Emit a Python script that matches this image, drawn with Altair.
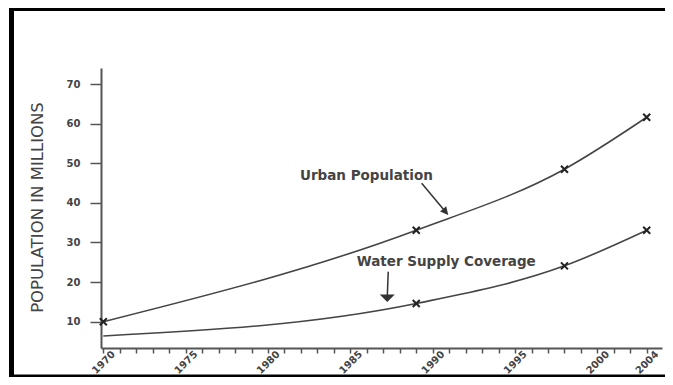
import altair as alt
import pandas as pd

# ---- data ----
series_names = ["Urban Population", "Water Supply Coverage"]
urban_years = [1970, 1989, 1998, 2004]
urban_values = [10.0, 33.1, 48.5, 61.6]
urban_marked = [True, True, True, True]
water_years = [1970, 1989, 1998, 2004]
water_values = [6.4, 14.6, 24.1, 33.1]
water_marked = [False, True, True, True]

y_ticks = [10, 20, 30, 40, 50, 60, 70]
x_ticks = list(range(1970, 2001)) + [2001.333, 2002.667, 2004]
x_labels = [1970, 1975, 1980, 1985, 1990, 1995, 2000, 2004]

annot_text = ["Urban Population", "Water Supply Coverage"]
annot_x = [1981.94, 1985.39]
annot_y = [45.77, 24.14]
arrow_x = [1989.33, 1987.30]
arrow_y = [44.94, 22.6]
arrow_x2 = [1990.79, 1987.24]
arrow_y2 = [37.72, 15.92]

# ---- tables ----
lines_df = pd.DataFrame({
    "series": [series_names[0]] * len(urban_years) + [series_names[1]] * len(water_years),
    "year": urban_years + water_years,
    "value": urban_values + water_values,
    "marked": urban_marked + water_marked,
})
marks_df = lines_df[lines_df["marked"]]
text_df = pd.DataFrame({"label": annot_text, "tx": annot_x, "ty": annot_y})
arrow_df = pd.DataFrame({"ax": arrow_x, "ay": arrow_y, "ax2": arrow_x2, "ay2": arrow_y2})
one = pd.DataFrame({"k": [0]})

label_list = ",".join(str(v) for v in x_labels)
xscale = alt.Scale(domain=[1969.86, 2000, 2004, 2005.24], range=[0, 496.4, 545.7, 561],
                   nice=False, zero=False)
yscale = alt.Scale(domain=[3.37, 74.04], nice=False, zero=False)

xaxis = alt.Axis(
    values=x_ticks, title=None, grid=False,
    labelExpr="indexof([" + label_list + "], datum.value) >= 0 ? format(datum.value, 'd') : ''",
    labelAngle=-45, labelAlign="center", labelBaseline="middle", labelPadding=9,
    labelFont="DejaVu Sans", labelFontWeight="bold", labelFontSize=10, labelColor="#444",
    labelOverlap=False, labelFlush=False,
    tickSize=5, tickWidth=1.5, tickColor="#555", domainColor="#555", domainWidth=2,
)
yaxis = alt.Axis(
    values=y_ticks, grid=False, title="POPULATION IN MILLIONS",
    titleFont="DejaVu Sans", titleFontSize=16.5, titleFontWeight="normal", titleColor="#444",
    titleAngle=270, titleX=-64, titleY=139, titleAlign="center", titleBaseline="middle",
    labelFont="DejaVu Sans", labelFontWeight="bold", labelFontSize=10, labelColor="#444",
    labelPadding=10, tickSize=11, tickWidth=1.5, tickColor="#555",
    domainColor="#555", domainWidth=2,
)


def X(f):
    return alt.X(f, type="quantitative", scale=xscale, axis=xaxis)


def Y(f):
    return alt.Y(f, type="quantitative", scale=yscale, axis=yaxis)


lines = alt.Chart(lines_df).mark_line(interpolate="monotone", color="#454545", strokeWidth=1.6).encode(
    x=X("year"), y=Y("value"), detail="series:N"
)
points = alt.Chart(marks_df).mark_point(
    shape="M-1,-1L1,1M-1,1L1,-1", filled=False, size=49, stroke="#222", strokeWidth=2, opacity=1
).encode(x=X("year"), y=Y("value"))

texts = alt.Chart(text_df).mark_text(
    align="left", baseline="alphabetic", font="DejaVu Sans", fontWeight="bold",
    fontSize=13.5, color="#444"
).encode(x=X("tx"), y=Y("ty"), text="label:N")

arrows = alt.Chart(arrow_df).mark_rule(color="#333", strokeWidth=1.5).encode(
    x=X("ax"), y=Y("ay"), x2="ax2", y2="ay2"
)
head_urban = alt.Chart(arrow_df.iloc[[0]]).mark_point(
    shape="M-1,-1L1,-1L0,1Z", size=64, angle=320, filled=True, color="#333", opacity=1
).encode(x=X("ax2"), y=Y("ay2"))
head_water = alt.Chart(arrow_df.iloc[[1]]).mark_point(
    shape="M-1,-0.5L1,-0.5L0,0.5Z", size=225, filled=True, color="#333", opacity=1
).encode(x=X("ax2"), y=Y("ay2"))

frame_left = alt.Chart(one).mark_rule(color="black", strokeWidth=5).encode(
    x=alt.value(-89.5), y=alt.value(-60), y2=alt.value(309)
)
frame_top = alt.Chart(one).mark_rule(color="black", strokeWidth=4).encode(
    x=alt.value(-92), x2=alt.value(564), y=alt.value(-59)
)
frame_bottom = alt.Chart(one).mark_rule(color="black", strokeWidth=3).encode(
    x=alt.value(-92), x2=alt.value(564), y=alt.value(308)
)

chart = alt.layer(
    lines, points, arrows, head_urban, head_water, texts, frame_left, frame_top, frame_bottom
).properties(
    width=561, height=280,
    padding={"left": 93, "top": 60, "right": 3, "bottom": 29},
    autosize=alt.AutoSizeParams(type="none"),
    background="white",
).configure_view(stroke=None)

chart.save("out.html", embed_options={"renderer": "svg", "actions": False})
